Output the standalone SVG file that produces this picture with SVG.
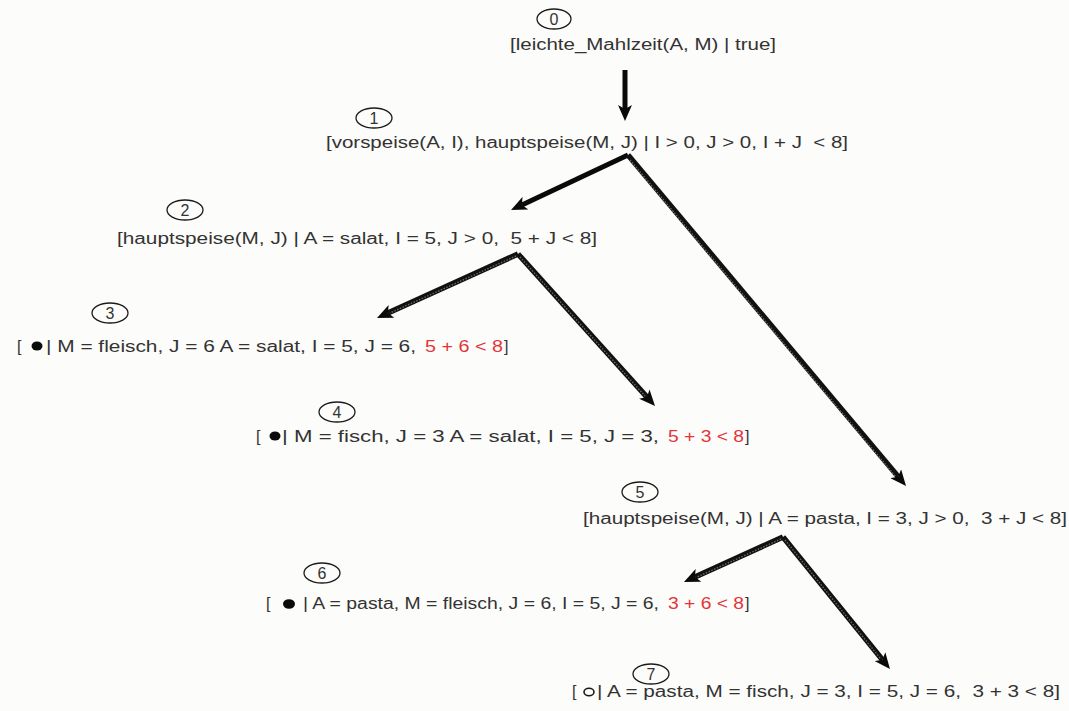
<svg xmlns="http://www.w3.org/2000/svg" width="1069" height="711" viewBox="0 0 1069 711">
  <style>
    .t { font-family: "Liberation Sans", Arial, sans-serif; font-size: 16px; fill: #333; white-space: pre; }
    .r { fill: #e3343a; }
    .num { font-family: "Liberation Sans", Arial, sans-serif; font-size: 16px; fill: #333; text-anchor: middle; }
    .tag { fill: none; stroke: #1a1a1a; stroke-width: 1.3; }
    .solid { fill: none; stroke: #0a0a0a; stroke-width: 5; stroke-linecap: butt; marker-end: url(#head); }
    .outer { fill: none; stroke: #111; stroke-width: 5.5; stroke-linecap: butt; marker-end: url(#head); }
    .inner { fill: none; stroke: #6a6a6a; stroke-width: 1.4; stroke-dasharray: 1.5 1.5; }
    .dot { fill: #0a0a0a; }
  </style>
  <defs>
    <marker id="head" markerUnits="userSpaceOnUse" viewBox="0 0 16 14" markerWidth="16" markerHeight="14" refX="4" refY="7" orient="auto">
      <path d="M0,0 L16,7 L0,14 L4,7 z" fill="#0a0a0a"/>
    </marker>
  </defs>

  <rect width="1069" height="711" fill="#fcfcfa"/>

  <!-- connectors -->
  <g id="connectors">
    <path id="e0-1" class="solid" d="M625,70 L625,109"/>
    <path id="e1-2" class="solid" d="M628,155 L521.9,204.9"/>
    <path id="e1-5" class="outer" d="M628,155 L898.3,476.8"/>
    <path class="inner" d="M630,160 L896,477"/>
    <path id="e2-3" class="outer" d="M518,254 L387.9,313"/>
    <path class="inner" d="M516,256 L390,313"/>
    <path id="e2-4" class="outer" d="M518,254 L647,397.1"/>
    <path class="inner" d="M520,257 L645,396"/>
    <path id="e5-6" class="outer" d="M783,537 L694.9,577"/>
    <path class="inner" d="M781,539 L697,577"/>
    <path id="e5-7" class="outer" d="M783,537 L882.4,659.7"/>
    <path class="inner" d="M785,540 L880,658"/>
  </g>

  <g id="n0">
    <ellipse class="tag" cx="554" cy="19" rx="17" ry="10"/>
    <text class="num" x="554" y="25">0</text>
    <text class="t" x="510" y="50" textLength="266" lengthAdjust="spacingAndGlyphs">[leichte_Mahlzeit(A, M) | true]</text>
  </g>

  <g id="n1">
    <ellipse class="tag" cx="374" cy="118" rx="18" ry="10"/>
    <text class="num" x="374" y="124">1</text>
    <text class="t" x="326" y="148" textLength="522" lengthAdjust="spacingAndGlyphs">[vorspeise(A, I), hauptspeise(M, J) | I &gt; 0, J &gt; 0, I + J  &lt; 8]</text>
  </g>

  <g id="n2">
    <ellipse class="tag" cx="185" cy="210" rx="18" ry="10"/>
    <text class="num" x="185" y="216">2</text>
    <text class="t" x="117" y="244" textLength="480" lengthAdjust="spacingAndGlyphs">[hauptspeise(M, J) | A = salat, I = 5, J &gt; 0,  5 + J &lt; 8]</text>
  </g>

  <g id="n3">
    <ellipse class="tag" cx="110" cy="313" rx="18" ry="10"/>
    <text class="num" x="110" y="319">3</text>
    <text class="t" x="17" y="352">[</text>
    <ellipse class="dot" cx="37" cy="346" rx="5.5" ry="4.5"/>
    <text class="t" x="46" y="352" textLength="370" lengthAdjust="spacingAndGlyphs">| M = fleisch, J = 6 A = salat, I = 5, J = 6,</text>
    <text class="t r" x="425" y="352" textLength="78" lengthAdjust="spacingAndGlyphs">5 + 6 &lt; 8</text>
    <text class="t" x="504" y="352">]</text>
  </g>

  <g id="n4">
    <ellipse class="tag" cx="337" cy="412" rx="18" ry="10"/>
    <text class="num" x="337" y="418">4</text>
    <text class="t" x="256" y="442">[</text>
    <ellipse class="dot" cx="275" cy="436" rx="5.5" ry="4.5"/>
    <text class="t" x="282" y="442" textLength="377" lengthAdjust="spacingAndGlyphs">| M = fisch, J = 3 A = salat, I = 5, J = 3,</text>
    <text class="t r" x="668" y="442" textLength="76" lengthAdjust="spacingAndGlyphs">5 + 3 &lt; 8</text>
    <text class="t" x="745" y="442">]</text>
  </g>

  <g id="n5">
    <ellipse class="tag" cx="640" cy="492" rx="18" ry="10"/>
    <text class="num" x="640" y="498">5</text>
    <text class="t" x="583" y="524" textLength="484" lengthAdjust="spacingAndGlyphs">[hauptspeise(M, J) | A = pasta, I = 3, J &gt; 0,  3 + J &lt; 8]</text>
  </g>

  <g id="n6">
    <ellipse class="tag" cx="322" cy="573" rx="18" ry="10"/>
    <text class="num" x="322" y="579">6</text>
    <text class="t" x="266" y="609">[</text>
    <ellipse class="dot" cx="289" cy="604" rx="6" ry="4.8"/>
    <text class="t" x="303" y="609" textLength="356" lengthAdjust="spacingAndGlyphs">| A = pasta, M = fleisch, J = 6, I = 5, J = 6,</text>
    <text class="t r" x="668" y="609" textLength="76" lengthAdjust="spacingAndGlyphs">3 + 6 &lt; 8</text>
    <text class="t" x="745" y="609">]</text>
  </g>

  <g id="n7">
    <ellipse class="tag" cx="651" cy="674" rx="18" ry="10"/>
    <text class="num" x="651" y="680">7</text>
    <text class="t" x="572" y="697">[</text>
    <ellipse cx="589" cy="692" rx="5" ry="3.8" fill="none" stroke="#1a1a1a" stroke-width="1.6"/>
    <text class="t" x="597" y="697" textLength="463" lengthAdjust="spacingAndGlyphs">| A = pasta, M = fisch, J = 3, I = 5, J = 6,  3 + 3 &lt; 8]</text>
  </g>
</svg>
